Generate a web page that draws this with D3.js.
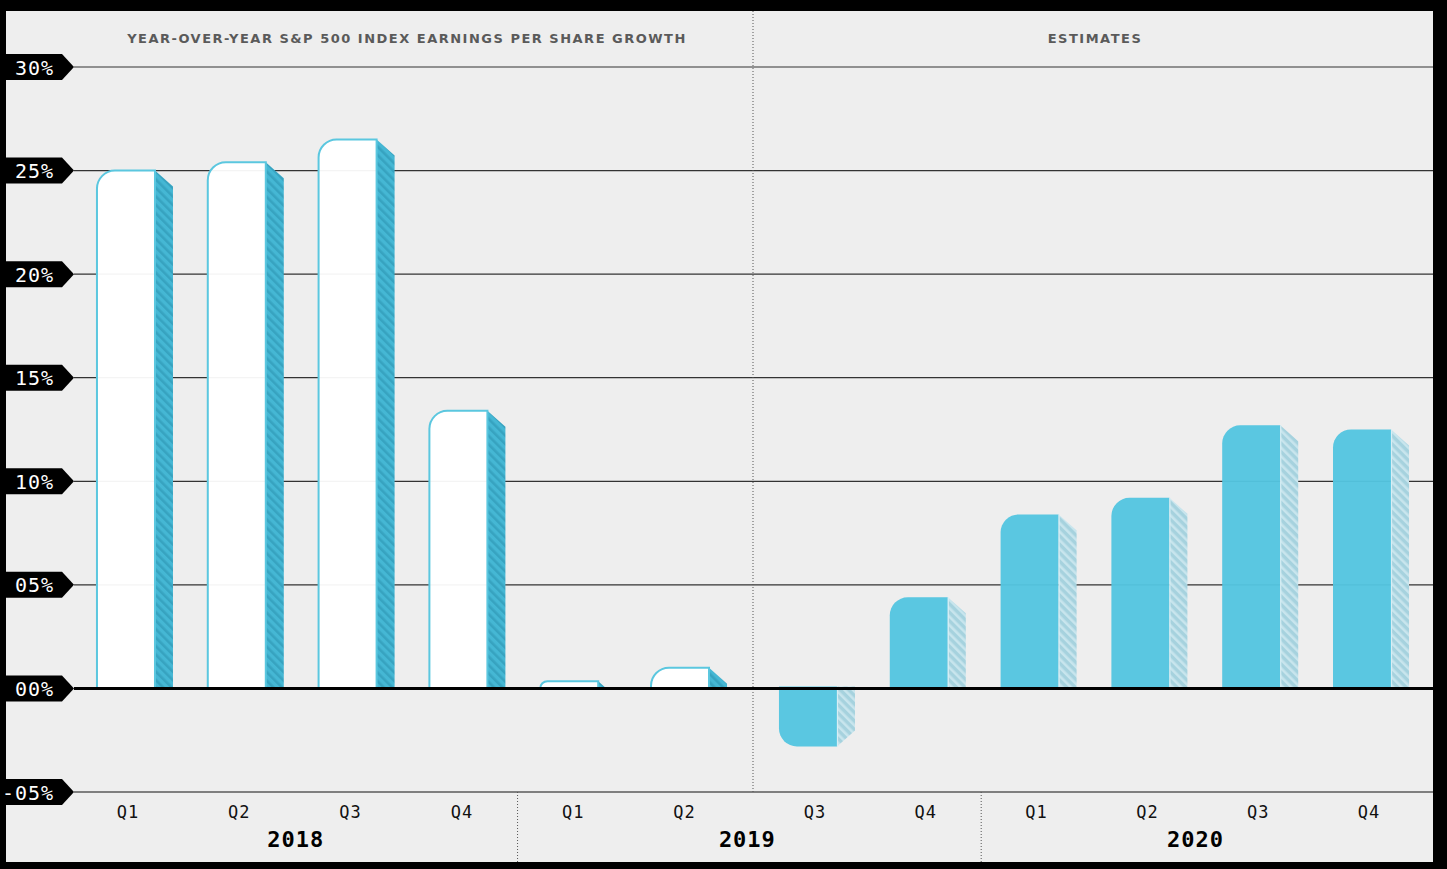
<!DOCTYPE html>
<html>
<head>
<meta charset="utf-8">
<script src="https://cdn.jsdelivr.net/npm/d3@7"></script>
<style>
  html, body { margin: 0; padding: 0; background: #000; }
  svg { display: block; }
</style>
</head>
<body>
<svg id="chart" width="1447" height="869"></svg>
<script>
// ---------------- DATA ----------------
const quarters = ["Q1","Q2","Q3","Q4","Q1","Q2","Q3","Q4","Q1","Q2","Q3","Q4"];
const years = ["2018","2019","2020"];
const yearQuarterCount = [4, 4, 4];
const growth = [25.0, 25.4, 26.5, 13.4, 0.35, 1.0, -2.8, 4.4, 8.4, 9.2, 12.7, 12.5];
const estimate = [false,false,false,false,false,false,true,true,true,true,true,true];
const yTicks = [-5, 0, 5, 10, 15, 20, 25, 30];
const headerLeft = "YEAR-OVER-YEAR S&P 500 INDEX EARNINGS PER SHARE GROWTH";
const headerRight = "ESTIMATES";

// ---------------- LAYOUT ----------------
const W = 1447, H = 869;
const panel = {x0: 6, y0: 11, x1: 1433, y1: 862};
const plotLeft = 74;
const sideW = 18, drop = 16, cornerR = 18;

const svg = d3.select("#chart");
const defs = svg.append("defs");

// hatch patterns
function hatch(id, base, stripe) {
  const p = defs.append("pattern").attr("id", id)
    .attr("patternUnits", "userSpaceOnUse").attr("width", 6).attr("height", 6)
    .attr("patternTransform", "rotate(-45)");
  p.append("rect").attr("width", 6).attr("height", 6).attr("fill", base);
  p.append("rect").attr("width", 2.6).attr("height", 6).attr("fill", stripe);
}
hatch("hatchActual", "#45b7d4", "#37a3c0");
hatch("hatchEst", "#a6d2de", "#c8e5ed");

// background
svg.append("rect").attr("width", W).attr("height", H).attr("fill", "#000");
svg.append("rect").attr("x", panel.x0).attr("y", panel.y0)
  .attr("width", panel.x1 - panel.x0).attr("height", panel.y1 - panel.y0)
  .attr("fill", "#eeeeee");

// scales
const y = d3.scaleLinear().domain([-5, 30]).range([792, 67]);
const idxActual = d3.range(6), idxEst = d3.range(6, 12);
const xA = d3.scaleBand().domain(idxActual).range([70.6, 735.4]).paddingInner(0.4765).paddingOuter(0.238);
const xE = d3.scaleBand().domain(idxEst).range([752.6, 1417.4]).paddingInner(0.4765).paddingOuter(0.238);
const xOf = i => (i < 6 ? xA(i) : xE(i));
const bw = xA.bandwidth();
const labelX = i => xOf(i) + bw / 2 + (i < 6 ? 2 + i * 0.5 : 7);

// gridlines (except zero)
const grid = svg.append("g");
grid.selectAll("line").data(yTicks.filter(t => t !== 0)).join("line")
  .attr("x1", plotLeft).attr("x2", panel.x1)
  .attr("y1", d => y(d)).attr("y2", d => y(d))
  .attr("stroke", d => d === -5 ? "#111" : "#333").attr("stroke-width", 1.2);

// dotted dividers
const divX = 753;
svg.append("line").attr("x1", divX).attr("x2", divX).attr("y1", panel.y0).attr("y2", y(-5))
  .attr("stroke", "#555").attr("stroke-width", 1).attr("stroke-dasharray", "1,2");
// year separators
let acc = 0;
const yearBounds = [];
yearQuarterCount.forEach((c, k) => { yearBounds.push([acc, acc + c - 1]); acc += c; });
const sepXs = yearBounds.slice(0, -1).map(([a, b]) => (labelX(b) + labelX(b + 1)) / 2);
svg.selectAll(".sep").data(sepXs).join("line").attr("class", "sep")
  .attr("x1", d => d).attr("x2", d => d).attr("y1", y(-5)).attr("y2", panel.y1)
  .attr("stroke", "#555").attr("stroke-width", 1).attr("stroke-dasharray", "1,2");

// header texts
svg.append("text").attr("x", 407).attr("y", 43)
  .attr("text-anchor", "middle").attr("fill", "#5a5a5a")
  .style("font-family", "'DejaVu Sans', sans-serif").style("font-weight", "bold")
  .style("font-size", "13px").style("letter-spacing", "1.5px")
  .text(headerLeft);
svg.append("text").attr("x", 1095).attr("y", 43)
  .attr("text-anchor", "middle").attr("fill", "#5a5a5a")
  .style("font-family", "'DejaVu Sans', sans-serif").style("font-weight", "bold")
  .style("font-size", "13px").style("letter-spacing", "1.5px")
  .text(headerRight);

// clip for positive side faces
const y0 = y(0);
defs.append("clipPath").attr("id", "abovezero").append("rect")
  .attr("x", 0).attr("y", 0).attr("width", W).attr("height", y0);

// bars
const bars = svg.append("g");
growth.forEach((v, i) => {
  const x0 = xOf(i), x1 = x0 + bw;
  const est = estimate[i];
  const g = bars.append("g");
  if (v >= 0) {
    const t = y(v), b = y0;
    const r = Math.min(cornerR, b - t);
    g.append("path")
      .attr("clip-path", "url(#abovezero)")
      .attr("d", `M${x1},${t} L${x1 + sideW},${t + drop} L${x1 + sideW},${b} L${x1},${b} Z`)
      .attr("fill", est ? "url(#hatchEst)" : "url(#hatchActual)");
    g.append("path")
      .attr("d", `M${x0},${b} L${x0},${t + r} A${r},${r} 0 0 1 ${x0 + r},${t} L${x1},${t} L${x1},${b}`)
      .attr("fill", est ? "#53c5e0" : "#ffffff")
      .attr("fill-opacity", est ? 0.96 : 0.95)
      .attr("stroke", est ? "none" : "#5bc7df")
      .attr("stroke-width", 2);
    if (est) {
      g.append("line").attr("x1", x1 + 0.5).attr("x2", x1 + 0.5).attr("y1", t).attr("y2", b)
        .attr("stroke", "#d8eef4").attr("stroke-width", 1.2);
    }
  } else {
    const t = y0 - 2, b = y(v);
    const r = Math.min(cornerR, b - t);
    g.append("path")
      .attr("d", `M${x1},${t} L${x1 + sideW},${t} L${x1 + sideW},${b - drop} L${x1},${b} Z`)
      .attr("fill", est ? "url(#hatchEst)" : "url(#hatchActual)");
    g.append("path")
      .attr("d", `M${x0},${t} L${x0},${b - r} A${r},${r} 0 0 0 ${x0 + r},${b} L${x1},${b} L${x1},${t}`)
      .attr("fill", est ? "#53c5e0" : "#ffffff")
      .attr("fill-opacity", est ? 0.96 : 0.95)
      .attr("stroke", est ? "none" : "#5bc7df").attr("stroke-width", 2);
    if (est) {
      g.append("line").attr("x1", x1 + 0.5).attr("x2", x1 + 0.5).attr("y1", t).attr("y2", b)
        .attr("stroke", "#d8eef4").attr("stroke-width", 1.2);
    }
  }
});

// zero line
svg.append("line").attr("x1", plotLeft).attr("x2", panel.x1).attr("y1", y0).attr("y2", y0)
  .attr("stroke", "#000").attr("stroke-width", 3);

// y tags
const fmt = d => (d < 0 ? "-" : "") + String(Math.abs(d)).padStart(2, "0") + "%";
const tags = svg.append("g").selectAll("g").data(yTicks).join("g")
  .attr("transform", d => `translate(0,${y(d)})`);
tags.append("path").attr("d", "M0,-13 L62,-13 L74,0 L62,13 L0,13 Z").attr("fill", "#000");
tags.append("text").attr("x", d => d < 0 ? 2 : 15).attr("y", 7.5)
  .attr("fill", "#fff")
  .style("font-family", "'DejaVu Sans Mono', monospace")
  .style("font-size", "20px").style("letter-spacing", "1px")
  .text(fmt);

// quarter labels
svg.append("g").selectAll("text").data(quarters).join("text")
  .attr("x", (d, i) => labelX(i)).attr("y", 818)
  .attr("text-anchor", "middle").attr("fill", "#111")
  .style("font-family", "'DejaVu Sans Mono', monospace")
  .style("font-size", "17px").style("letter-spacing", "1px")
  .text(d => d);

// year labels
const yearCenters = [ (plotLeft + sepXs[0]) / 2, (sepXs[0] + sepXs[1]) / 2 - 2, (sepXs[1] + 1410) / 2 ];
svg.append("g").selectAll("text").data(years).join("text")
  .attr("x", (d, k) => yearCenters[k]).attr("y", 847)
  .attr("text-anchor", "middle").attr("fill", "#000")
  .style("font-family", "'DejaVu Sans Mono', monospace").style("font-weight", "bold")
  .style("font-size", "22px").style("letter-spacing", "1px")
  .text(d => d);
</script>
</body>
</html>
